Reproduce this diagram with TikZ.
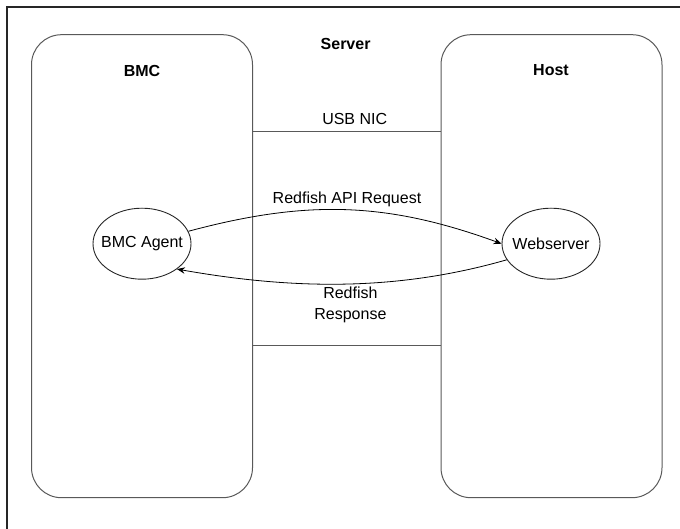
\documentclass[tikz,border=0pt]{standalone}
\usepackage{fontspec}
\setmainfont{Liberation Sans}
\usetikzlibrary{arrows.meta, positioning, shapes.geometric}

\begin{document}
\begin{tikzpicture}[
  x=1pt, y=1pt,
  side/.style={draw=black!65, line width=1pt, rectangle, rounded corners=30pt,
               minimum width=221pt, minimum height=463pt, inner sep=0pt},
  proc/.style={draw=black!85, line width=0.9pt, ellipse, minimum width=98pt,
               minimum height=71pt, inner xsep=-14pt, inner ysep=0pt,
               font=\fontsize{16}{19}\selectfont},
  lbl/.style={font=\fontsize{16}{21.5}\selectfont, align=center, inner sep=0pt},
  head/.style={font=\bfseries\fontsize{16}{19}\selectfont, inner sep=0pt},
  link/.style={draw=black!65, line width=1pt},
  arr/.style={-{Stealth[length=8pt, width=6.5pt]}, line width=0.8pt}
]
  \useasboundingbox (0,0) rectangle (680,-529);
  % frame, cut at the right and the bottom
  \draw[line width=1.5pt, black!85] (7,-529) -- (7,-7) -- (680,-7);

  \node[side] (bmc)  at (142,-266.2) {};
  \node[side] (host) at (551.5,-266.2) {};

  \node[head] (server)  at (345.6,-44) {Server};
  \node[head] (bmctext) at (142,-70.5) {BMC};
  \node[head] (hosttext) at (551,-70.5) {Host};

  \coordinate (niclo) at (0,-131.6);
  \coordinate (nicup) at (0,-345.8);
  \draw[link] (bmc.east |- niclo) -- (host.west |- niclo);
  \draw[link] (bmc.east |- nicup) -- (host.west |- nicup);
  \node[lbl] (usbnic) at (354.7,-119) {USB NIC};

  \node[proc] (agent) at (142,-243.7) {BMC Agent};
  \node[proc] (web)   at (551,-243.7) {Webserver};

  \draw[arr] (agent.15) to[out=15, in=160] (web.west);
  \draw[arr] (web.200) to[out=196, in=-10, looseness=0.9] (agent.-36);

  \node[lbl] (request)  at (347,-199) {Redfish API Request};
  \node[lbl] (response) at (350.4,-305) {Redfish\\Response};
\end{tikzpicture}
\end{document}
